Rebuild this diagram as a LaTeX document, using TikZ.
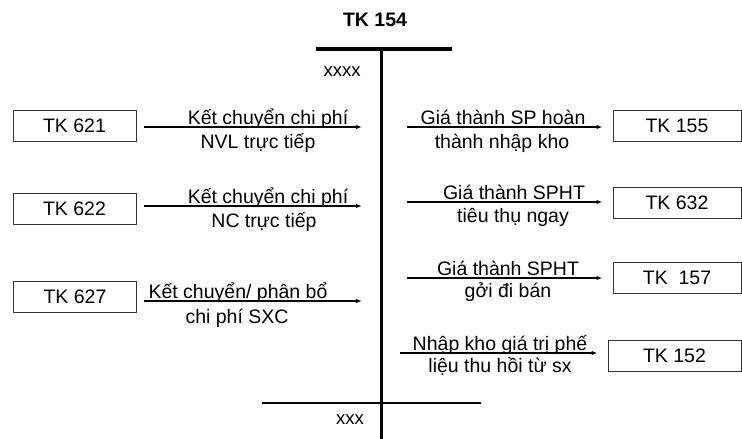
\documentclass[tikz,border=0pt]{standalone}
\usepackage{fontspec}
\setmainfont{Liberation Sans}
\usetikzlibrary{arrows.meta}
\begin{document}
\begin{tikzpicture}[x=1pt,y=-1pt,
  acct/.style={draw=black!80,line width=1pt,minimum width=123pt,minimum height=31pt,inner sep=0pt,font=\fontsize{19.5}{22}\selectfont},
  lbl/.style={inner sep=0pt,font=\fontsize{19.5}{22}\selectfont,anchor=base},
  arr/.style={line width=1.1pt,-{Latex[length=6pt,width=4.5pt]}},
  txt/.style={inner sep=0pt,font=\fontsize{18.5}{20}\selectfont}]
\useasboundingbox (0,0) rectangle (742,439);
% T account
\node[inner sep=0pt,font=\fontsize{19.5}{20}\selectfont\bfseries] (title) at (375,20) {TK 154};
\coordinate (bl) at (316,49);
\coordinate (br) at (452,49);
\coordinate (vt) at (381,49);
\coordinate (vb) at (381,439);
\draw[line width=4pt] (bl) -- (br);
\draw[line width=3pt] (vt) -- (vb);
\coordinate (hl) at (262,403);
\coordinate (hr) at (481,403);
\draw[line width=1.5pt] (hl) -- (hr);
\node[txt] (xxxx) at (342,72) {xxxx};
\node[txt] (xxx) at (350,420) {xxx};
% left boxes
\node[acct] (b621) at (74.5,125.5) {TK 621};
\node[acct] (b622) at (74.5,209) {TK 622};
\node[acct] (b627) at (75,297) {TK 627};
% right boxes
\node[acct,minimum width=128pt] (b155) at (677,125.5) {TK 155};
\node[acct,minimum width=128pt] (b632) at (677,203) {TK 632};
\node[acct,minimum width=128pt] (b157) at (677,278) {TK~~157};
\node[acct,minimum width=133pt] (b152) at (674.5,356) {TK 152};
% left arrows
\coordinate (e1) at (362,127);
\coordinate (e2) at (362,206);
\coordinate (e3) at (362,301);
\draw[arr] ([xshift=7pt]b621.east |- e1) -- (e1);
\draw[arr] ([xshift=7pt]b622.east |- e2) -- (e2);
\draw[arr] ([xshift=7pt]b627.east |- e3) -- (e3);
\node[lbl] (l1a) at (268,124) {Kết chuyển chi phí};
\node[lbl] (l1b) at (258,148) {NVL trực tiếp};
\node[lbl] (l2a) at (268,203) {Kết chuyển chi phí};
\node[lbl] (l2b) at (264,227) {NC trực tiếp};
\node[lbl] (l3a) at (238,298) {Kết chuyển/ phân bổ};
\node[lbl] (l3b) at (237,323) {chi phí SXC};
% right arrows
\coordinate (s4) at (407,127);
\coordinate (s5) at (407,202);
\coordinate (s6) at (407,278);
\coordinate (s7) at (400,353);
\draw[arr] (s4) -- ([xshift=-10pt]b155.west |- s4);
\draw[arr] (s5) -- ([xshift=-10pt]b632.west |- s5);
\draw[arr] (s6) -- ([xshift=-10pt]b157.west |- s6);
\draw[arr] (s7) -- ([xshift=-10pt]b152.west |- s7);
\node[lbl] (r1a) at (503,124) {Giá thành SP hoàn};
\node[lbl] (r1b) at (502,148) {thành nhập kho};
\node[lbl] (r2a) at (514,199) {Giá thành SPHT};
\node[lbl] (r2b) at (513,222) {tiêu thụ ngay};
\node[lbl] (r3a) at (508,275) {Giá thành SPHT};
\node[lbl] (r3b) at (508,297) {gởi đi bán};
\node[lbl] (r4a) at (500,350) {Nhập kho giá trị phế};
\node[lbl] (r4b) at (500,372) {liệu thu hồi từ sx};
\end{tikzpicture}
\end{document}
